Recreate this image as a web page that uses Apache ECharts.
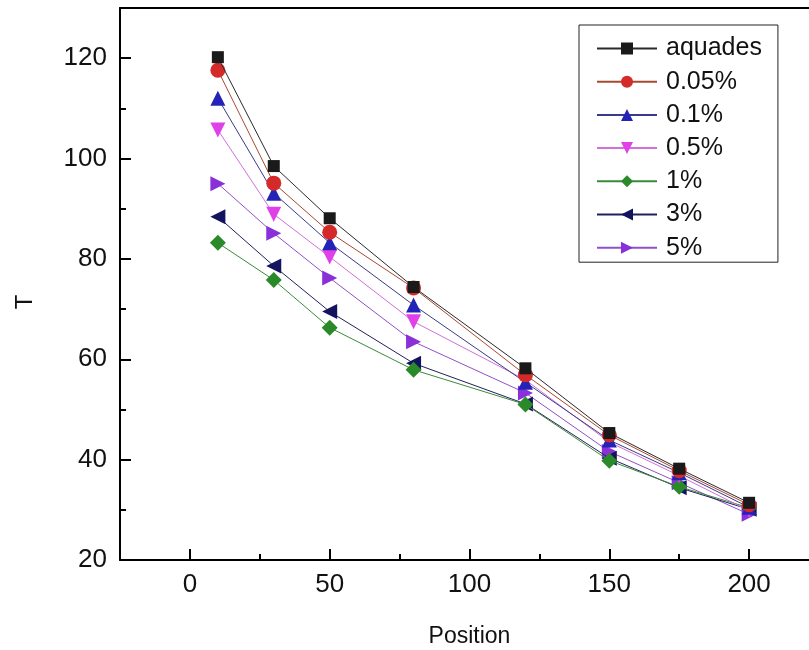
<!DOCTYPE html>
<html>
<head>
<meta charset="utf-8">
<script src="https://cdn.jsdelivr.net/npm/echarts@6/dist/echarts.min.js"></script>
<style>html,body{margin:0;padding:0;background:#fff;overflow:hidden;}#c{width:809px;height:650px;overflow:hidden;}</style>
</head>
<body>
<div id="c"></div>
<script>
const positions = [10, 30, 50, 80, 120, 150, 175, 200];
const seriesNames = ['aquades', '0.05%', '0.1%', '0.5%', '1%', '3%', '5%'];
const aquades = [120.2, 98.5, 88.1, 74.4, 58.2, 45.3, 38.2, 31.4];
const p005 = [117.6, 95.1, 85.3, 74.2, 56.9, 44.9, 37.8, 31.0];
const p01 = [112.0, 93.1, 83.2, 70.8, 55.4, 43.9, 37.4, 30.5];
const p05 = [105.7, 88.9, 80.4, 67.5, 55.9, 43.5, 36.8, 29.8];
const p1 = [83.2, 75.8, 66.3, 57.9, 51.0, 39.8, 34.6, 30.4];
const p3 = [88.4, 78.6, 69.5, 59.2, 51.1, 40.3, 34.4, 30.1];
const p5 = [95.0, 85.1, 76.2, 63.5, 53.3, 41.6, 35.4, 29.1];
const xMajorTicks = [0, 50, 100, 150, 200];
const xMinorTicks = [25, 75, 125, 175];
const yMajorTicks = [20, 40, 60, 80, 100, 120];
const yMinorTicks = [30, 50, 70, 90, 110];
const xTitle = 'Position';
const yTitle = 'T';

const values = [aquades, p005, p01, p05, p1, p3, p5];
const styles = [
  {sym:'rect', rot:0, size:12, c:'#1a1a1a', lc:'#2a2a2a'},
  {sym:'circle', rot:0, size:15, c:'#d42a2a', lc:'#a84a30'},
  {sym:'triangle', rot:0, size:15, c:'#2323b8', lc:'#3a3a8a'},
  {sym:'triangle', rot:180, size:15, c:'#e040e8', lc:'#d070d8'},
  {sym:'diamond', rot:0, size:16, c:'#2a8a2a', lc:'#3a8a3a'},
  {sym:'triangle', rot:90, size:15, c:'#14145e', lc:'#20205e'},
  {sym:'triangle', rot:-90, size:15, c:'#8a30d8', lc:'#9050c8'}
];

const font = 'Liberation Sans, Arial, sans-serif';
const series = seriesNames.map((n, i) => ({
  name: n,
  type: 'line',
  xAxisIndex: 0,
  yAxisIndex: 0,
  data: positions.map((x, j) => [x, values[i][j]]),
  symbol: styles[i].sym,
  symbolRotate: styles[i].rot,
  symbolSize: styles[i].size,
  itemStyle: {color: styles[i].c},
  lineStyle: {color: styles[i].lc, width: 1},
  z: 10 - i
}));

const chart = echarts.init(document.getElementById('c'), null, {renderer: 'canvas', width: 809, height: 650});
chart.setOption({
  animation: false,
  backgroundColor: '#ffffff',
  grid: {left: 120, top: 8, width: 699, height: 552, outerBoundsMode: 'none', containLabel: false, show: false},
  legend: {
    orient: 'vertical',
    left: 579, top: 25,
    padding: [11, 16, 2, 17],
    itemWidth: 60, itemHeight: 15, itemGap: 8.2,
    borderColor: '#222', borderWidth: 1,
    backgroundColor: '#fff',
    textStyle: {fontFamily: font, fontSize: 25, color: '#111', padding: [0, 0, 0, 4]},
    data: seriesNames
  },
  graphic: [{
    type: 'text', x: 25, y: 302, rotation: Math.PI / 2,
    style: {text: yTitle, font: '24px Liberation Sans, Arial, sans-serif', fill: '#111', align: 'center', verticalAlign: 'middle'}
  }],
  xAxis: [{
    type: 'value', min: -25, max: 225, position: 'bottom',
    name: xTitle, nameLocation: 'middle', nameGap: 65,
    nameTextStyle: {fontFamily: font, fontSize: 23, color: '#111'},
    axisLine: {show: true, onZero: false, lineStyle: {color: '#000', width: 2}},
    axisTick: {show: true, inside: true, length: 11, lineStyle: {color: '#000', width: 2}, customValues: xMajorTicks},
    axisLabel: {fontFamily: font, fontSize: 26, color: '#111', margin: 12, customValues: xMajorTicks},
    splitLine: {show: false}
  }, {
    type: 'value', min: -25, max: 225, position: 'bottom',
    axisLine: {show: false, onZero: false},
    axisTick: {show: true, inside: true, length: 6, lineStyle: {color: '#000', width: 2}, customValues: xMinorTicks},
    axisLabel: {show: false},
    splitLine: {show: false}
  }, {
    type: 'value', min: -25, max: 225, position: 'top',
    axisLine: {show: true, onZero: false, lineStyle: {color: '#000', width: 2}},
    axisTick: {show: false},
    axisLabel: {show: false},
    splitLine: {show: false}
  }],
  yAxis: [{
    type: 'value', min: 20, max: 130, position: 'left',
    axisLine: {show: true, onZero: false, lineStyle: {color: '#000', width: 2}},
    axisTick: {show: true, inside: true, length: 11, lineStyle: {color: '#000', width: 2}, customValues: yMajorTicks},
    axisLabel: {fontFamily: font, fontSize: 26, color: '#111', margin: 13, customValues: yMajorTicks},
    splitLine: {show: false}
  }, {
    type: 'value', min: 20, max: 130, position: 'left', offset: 0,
    axisLine: {show: false, onZero: false},
    axisTick: {show: true, inside: true, length: 6, lineStyle: {color: '#000', width: 2}, customValues: yMinorTicks},
    axisLabel: {show: false},
    splitLine: {show: false}
  }],
  series: series
});
</script>
</body>
</html>
